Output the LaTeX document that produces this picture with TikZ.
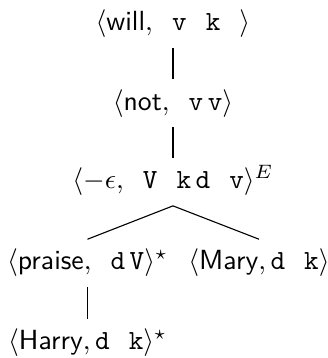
\documentclass[tikz,border=0pt]{standalone}
\usepackage{amsmath}
\tikzset{lexitem/.style={anchor=base, text height=7.5pt, text depth=2.5pt, inner sep=3.4pt}}
\begin{document}
\begin{tikzpicture}
        % 1. Fix the page size
        \useasboundingbox (0,0) rectangle (4.162,-4.543);

        % 2. Derivation nodes
        \node[lexitem] (will) at (2.195,-0.393) {$\langle\textsf{will}, \texttt{~v}\,\texttt{~k}\,\texttt{~}\rangle$};
        \node[lexitem] (not) at (2.195,-1.396) {$\langle\textsf{not}, \texttt{~v}\,\texttt{v}\rangle$};
        \node[lexitem] (eps) at (2.195,-2.398) {$\langle -\epsilon, \texttt{~V}\,\texttt{~k}\,\texttt{d}\,\texttt{~v}\rangle^E$};
        \node[lexitem] (praise) at (1.11,-3.426) {$\langle\textsf{praise}, \texttt{~d}\,\texttt{V}\rangle^\star$};
        \node[lexitem] (mary) at (3.287,-3.426) {$\langle\textsf{Mary}, \texttt{d}\,\texttt{~k}\rangle$};
        \node[lexitem] (harry) at (1.11,-4.441) {$\langle\textsf{Harry}, \texttt{d}\,\texttt{~k}\rangle^\star$};

        % 3. Tree edges
        \draw (will.south) -- (not.north);
        \draw (not.south) -- (eps.north);
        \draw (eps.south) -- (praise.north);
        \draw (eps.south) -- (mary.north);
        \draw (praise.south) -- (harry.north);
    \end{tikzpicture}
\end{document}
